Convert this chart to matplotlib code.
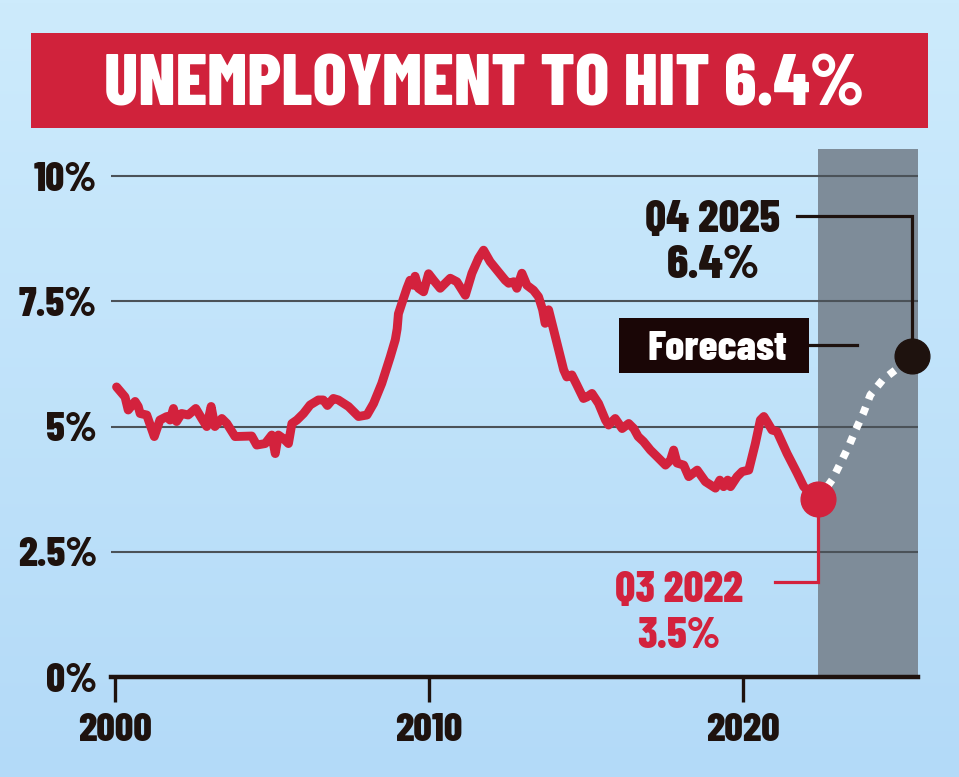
import matplotlib
matplotlib.use("Agg")
import matplotlib.pyplot as plt
import numpy as np
from matplotlib.patches import Rectangle
from matplotlib.colors import LinearSegmentedColormap

# ---------------- data ----------------
hist_years = [2000.05, 2000.32, 2000.42, 2000.64, 2000.74, 2000.80, 2001.01, 2001.25, 2001.43, 2001.65,
              2001.75, 2001.86, 2001.96, 2002.12, 2002.33, 2002.57, 2002.76, 2002.92, 2003.06, 2003.18,
              2003.40, 2003.56, 2003.82, 2004.35, 2004.51, 2004.78, 2004.99, 2005.10, 2005.20, 2005.36,
              2005.52, 2005.63, 2005.79, 2006.00, 2006.21, 2006.47, 2006.63, 2006.76, 2006.95, 2007.11,
              2007.43, 2007.75, 2008.02, 2008.23, 2008.49, 2008.76, 2008.92, 2008.98, 2009.02, 2009.13,
              2009.29, 2009.39, 2009.50, 2009.55, 2009.66, 2009.82, 2009.98, 2010.14, 2010.35, 2010.67,
              2010.88, 2011.15, 2011.36, 2011.57, 2011.73, 2011.94, 2012.16, 2012.42, 2012.53, 2012.69,
              2012.79, 2012.95, 2013.11, 2013.32, 2013.48, 2013.61, 2013.69, 2013.80, 2013.96, 2014.12,
              2014.28, 2014.38, 2014.54, 2014.70, 2014.91, 2015.02, 2015.18, 2015.39, 2015.61, 2015.71,
              2015.92, 2016.14, 2016.35, 2016.51, 2016.65, 2016.82, 2017.04, 2017.25, 2017.52, 2017.68,
              2017.78, 2017.89, 2018.10, 2018.26, 2018.53, 2018.79, 2019.11, 2019.25, 2019.37, 2019.50,
              2019.59, 2019.80, 2019.96, 2020.17, 2020.38, 2020.54, 2020.65, 2020.75, 2020.91, 2021.07,
              2021.39, 2021.71, 2021.92, 2022.24, 2022.38]
hist_values = [5.79, 5.59, 5.33, 5.50, 5.40, 5.26, 5.23, 4.80, 5.13, 5.20,
               5.13, 5.36, 5.10, 5.26, 5.23, 5.36, 5.16, 5.00, 5.40, 5.00,
               5.16, 5.06, 4.80, 4.81, 4.63, 4.66, 4.83, 4.46, 4.83, 4.76,
               4.66, 5.06, 5.13, 5.26, 5.43, 5.53, 5.53, 5.42, 5.56, 5.53,
               5.40, 5.20, 5.23, 5.46, 5.86, 6.39, 6.73, 6.95, 7.25, 7.46,
               7.76, 7.92, 7.82, 8.00, 7.76, 7.69, 8.05, 7.92, 7.76, 7.96,
               7.89, 7.62, 8.06, 8.36, 8.52, 8.29, 8.12, 7.92, 7.86, 7.89,
               7.76, 8.06, 7.82, 7.72, 7.59, 7.33, 7.06, 7.33, 6.93, 6.53,
               6.13, 5.99, 6.03, 5.83, 5.56, 5.59, 5.66, 5.46, 5.13, 5.03,
               5.16, 4.96, 5.06, 4.96, 4.80, 4.70, 4.53, 4.40, 4.23, 4.33,
               4.53, 4.27, 4.23, 4.00, 4.13, 3.90, 3.77, 3.93, 3.80, 3.93,
               3.80, 4.00, 4.10, 4.13, 4.66, 5.13, 5.20, 5.10, 4.93, 4.90,
               4.46, 4.07, 3.80, 3.60, 3.55]

fc_years = [2022.38, 2022.83, 2023.09, 2023.34, 2023.57, 2023.82, 2024.04, 2024.43, 2024.84, 2025.36]
fc_values = [3.55, 3.94, 4.27, 4.59, 4.93, 5.27, 5.63, 5.93, 6.13, 6.40]

y_ticks = [0, 2.5, 5, 7.5, 10]
y_labels = ["0%", "2.5%", "5%", "7.5%", "10%"]
x_ticks = [2000, 2010, 2020]
x_labels = ["2000", "2010", "2020"]

title = "UNEMPLOYMENT TO HIT 6.4%"
start_label = ["Q3 2022", "3.5%"]
end_label = ["Q4 2025", "6.4%"]
forecast_label = "Forecast"

# ---------------- style ----------------
FONT = ["Barlow Condensed", "Roboto Condensed", "Liberation Sans Narrow", "DejaVu Sans"]
WEIGHT = 800
RED = "#d3223d"
DARK = "#1e120e"
SHADE = "#7e8c99"

W, H = 959, 777
fig = plt.figure(figsize=(W / 100, H / 100), dpi=100)
renderer = fig.canvas.get_renderer()


def fit(t, target_px):
    w = t.get_window_extent(renderer).width
    t.set_fontsize(t.get_fontsize() * target_px / w)
    return t


# background gradient + title banner
bg = fig.add_axes([0, 0, 1, 1])
bg.axis("off")
grad = np.linspace(0, 1, 256).reshape(-1, 1)
cmap = LinearSegmentedColormap.from_list("bg", ["#cdebfc", "#b3daf8"])
bg.imshow(grad, aspect="auto", cmap=cmap, extent=[0, 1, 0, 1], origin="upper")
bg.set_xlim(0, 1)
bg.set_ylim(0, 1)
bg.add_patch(Rectangle((31 / W, 1 - 128 / H), (928 - 31) / W, (128 - 33) / H,
                       facecolor="#d0223b", edgecolor="none"))
t = bg.text(484 / W, 1 - 106 / H, title, ha="center", va="baseline", color="white",
            fontsize=60, fontweight=WEIGHT, family=FONT)
fit(t, 760)

# main axes
ax = fig.add_axes([111 / W, 1 - 677 / H, (918 - 111) / W, (677 - 149) / H])
ax.set_facecolor("none")
x0 = 2000 - 4 / 31.42
x1 = 2000 + 803 / 31.42
ax.set_xlim(x0, x1)
ax.set_ylim(0, 10.54)

# forecast shading
ax.axvspan(hist_years[-1], x1, color=SHADE, zorder=1, lw=0)

# gridlines
for yv in y_ticks[1:]:
    ax.axhline(yv, color="#4b5258", lw=1.5, zorder=2)

for s in ["top", "right", "left"]:
    ax.spines[s].set_visible(False)
ax.spines["bottom"].set_linewidth(3.2)
ax.spines["bottom"].set_color(DARK)
ax.spines["bottom"].set_zorder(6)

ax.set_yticks(y_ticks)
ax.set_yticklabels(y_labels)
ax.set_xticks(x_ticks)
ax.set_xticklabels(x_labels)
ax.tick_params(axis="y", length=0, pad=10, labelsize=30, labelcolor=DARK)
ax.tick_params(axis="x", length=18, width=2.4, color=DARK, direction="out", pad=8,
               labelsize=30, labelcolor=DARK)
for lab in ax.get_xticklabels() + ax.get_yticklabels():
    lab.set_fontfamily(FONT)
    lab.set_fontweight(WEIGHT)

# history line
ax.plot(hist_years, hist_values, color=RED, lw=6.4, solid_joinstyle="round",
        solid_capstyle="round", zorder=4)

# forecast dotted line
ax.plot(fc_years, fc_values, color="white", lw=5.5, linestyle=(0, (1, 1.1)),
        dash_capstyle="butt", zorder=3.5, clip_on=False)

# markers
ax.plot([hist_years[-1]], [hist_values[-1]], "o", color=RED, ms=25, zorder=5, clip_on=False)
ax.plot([fc_years[-1]], [fc_values[-1]], "o", color=DARK, ms=25, zorder=5, clip_on=False)

# start annotation (red)
ax.plot([hist_years[-1], hist_years[-1], 2021.0], [hist_values[-1], 1.90, 1.90],
        color=RED, lw=2.3, zorder=4.5, solid_joinstyle="miter", clip_on=False)
t = ax.text(2017.95, 1.50, start_label[0], ha="center", va="baseline", color=RED,
            fontsize=30, fontweight=WEIGHT, family=FONT, zorder=6)
fit(t, 128)
t = ax.text(2017.95, 0.58, start_label[1], ha="center", va="baseline", color=RED,
            fontsize=30, fontweight=WEIGHT, family=FONT, zorder=6)
fit(t, 83)

# end annotation (dark)
ax.plot([2021.71, fc_years[-1], fc_years[-1]], [9.20, 9.20, fc_values[-1]],
        color=DARK, lw=2.3, zorder=4.5, solid_joinstyle="miter", clip_on=False)
t = ax.text(2019.03, 8.88, end_label[0], ha="center", va="baseline", color=DARK,
            fontsize=30, fontweight=WEIGHT, family=FONT, zorder=6)
fit(t, 135)
t = ax.text(2019.03, 7.96, end_label[1], ha="center", va="baseline", color=DARK,
            fontsize=30, fontweight=WEIGHT, family=FONT, zorder=6)
fit(t, 93)

# forecast tag
ax.add_patch(Rectangle((2016.04, 6.068), 2022.09 - 2016.04, 7.166 - 6.068,
                       facecolor="#1a0606", edgecolor="none", zorder=6))
ax.plot([2022.09, 2023.62], [6.63, 6.63], color=DARK, lw=2.3, zorder=4.5)
t = ax.text(2019.16, 6.33, forecast_label, ha="center", va="baseline", color="white",
            fontsize=30, fontweight=WEIGHT, family=FONT, zorder=7)
fit(t, 140)

# size tick labels to match widths
fig.canvas.draw()
ylab = [l for l in ax.get_yticklabels() if l.get_text() == "10%"][0]
ysize = ylab.get_fontsize() * 63 / ylab.get_window_extent(renderer).width
xlab = ax.get_xticklabels()[0]
xsize = xlab.get_fontsize() * 74 / xlab.get_window_extent(renderer).width
ax.tick_params(axis="y", labelsize=ysize)
ax.tick_params(axis="x", labelsize=xsize)

fig.savefig("out.png", dpi=100)
